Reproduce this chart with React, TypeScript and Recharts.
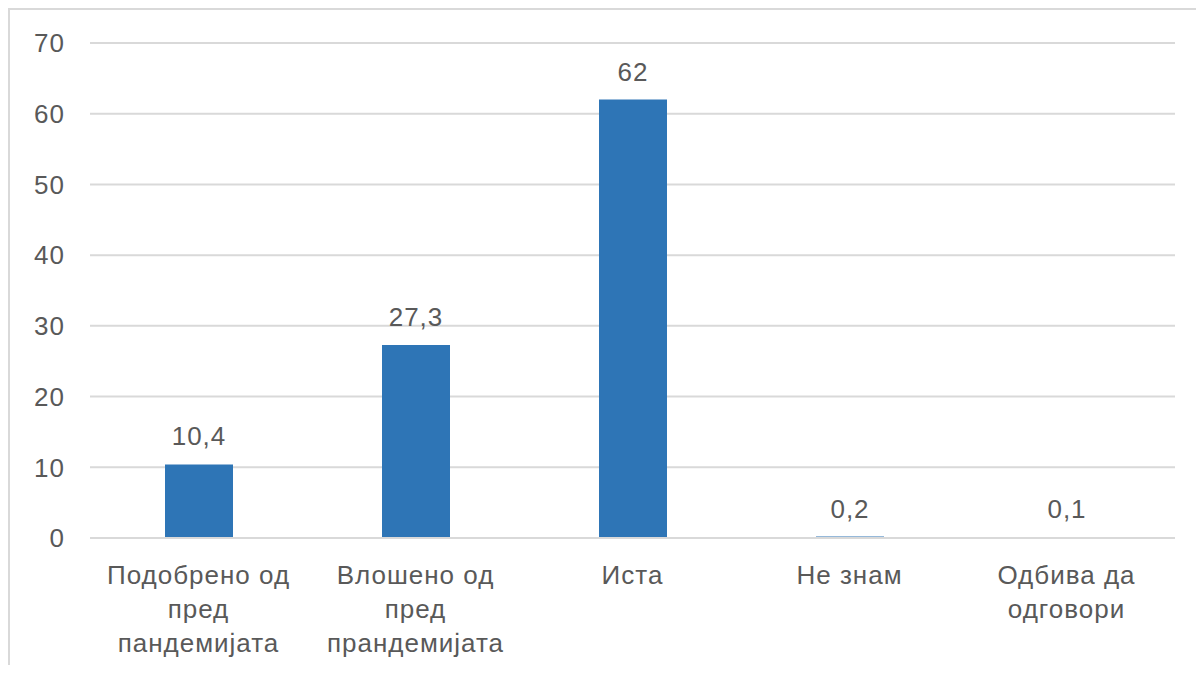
import React from 'react';
import { BarChart, Bar, XAxis, YAxis, CartesianGrid, LabelList } from 'recharts';

const categories = ['Подобрено од пред пандемијата', 'Влошено од пред прандемијата', 'Иста', 'Не знам', 'Одбива да одговори'];
const categoryLines = [
  ['Подобрено од', 'пред', 'пандемијата'],
  ['Влошено од', 'пред', 'прандемијата'],
  ['Иста'],
  ['Не знам'],
  ['Одбива да', 'одговори'],
];
const values = [10.4, 27.3, 62, 0.2, 0.1];
const yTicks = [0, 10, 20, 30, 40, 50, 60, 70];

const FONT = '"Liberation Sans", Arial, sans-serif';
const TEXT = '#595959';

const data = categories.map((name, i) => ({ name, value: values[i], lines: categoryLines[i] }));

const CategoryTick = (props: any) => {
  const { x, y, index } = props;
  const lines = categoryLines[index] || [];
  return (
    <text x={x} y={y} textAnchor="middle" fill={TEXT} fontSize={26} letterSpacing={1} fontFamily={FONT}>
      {lines.map((l, i) => (
        <tspan key={i} x={x} dy={i === 0 ? 38 : 34}>{l}</tspan>
      ))}
    </text>
  );
};

const App: React.FC = () => {
  return (
    <div style={{ width: 1194, height: 655, borderLeft: '2px solid #d9d9d9', borderTop: '2px solid #d9d9d9', background: '#fff' }}>
      <BarChart width={1194} height={655} data={data} margin={{ top: 33, right: 29, left: 0, bottom: 0 }} barSize={68}>
        <CartesianGrid vertical={false} stroke="#d9d9d9" strokeWidth={2} />
        <XAxis
          dataKey="name"
          axisLine={{ stroke: '#d9d9d9', strokeWidth: 2 }}
          tickLine={false}
          tick={<CategoryTick />}
          interval={0}
          height={127}
        />
        <YAxis
          domain={[0, 70]}
          ticks={yTicks}
          axisLine={false}
          tickLine={false}
          tickSize={0}
          tickMargin={25}
          width={80}
          tick={{ fill: TEXT, fontSize: 26, letterSpacing: 1, fontFamily: FONT }}
        />
        <Bar dataKey="value" fill="#2e75b6" isAnimationActive={false}>
          <LabelList
            dataKey="value"
            position="top"
            offset={19}
            fill={TEXT}
            fontSize={26}
            letterSpacing={1}
            fontFamily={FONT}
            formatter={(v: any) => String(v).replace('.', ',')}
          />
        </Bar>
      </BarChart>
    </div>
  );
};

export default App;
